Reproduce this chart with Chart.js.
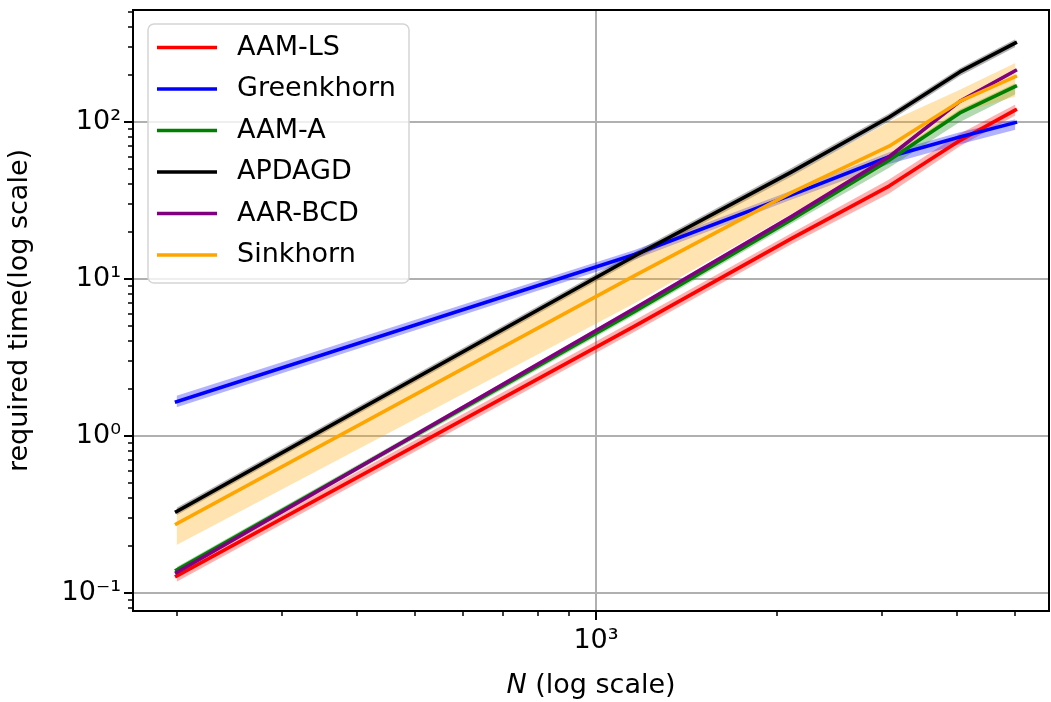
<!DOCTYPE html>
<html>
<head>
<meta charset="utf-8">
<title>required time vs N</title>
<script src="https://cdn.jsdelivr.net/npm/chart.js@4.4.0/dist/chart.umd.min.js"></script>
<style>
  html, body { margin: 0; padding: 0; background: #fff; }
  #wrap { width: 1051px; height: 702px; position: relative; }
</style>
</head>
<body>
<div id="wrap"><canvas id="chart"></canvas></div>
<script>
// Problem sizes (x axis)
const N_VALUES = [200, 1160, 2120, 3080, 4040, 5000];

// mean required time + shaded spread, one set per method
const AAM_LS    = [0.128, 5.0, 18.1, 39, 76, 119];
const AAM_LS_LO = [0.118, 4.6, 16.7, 35, 70, 110];
const AAM_LS_HI = [0.139, 5.45, 19.6, 43, 84, 129];

const GREENKHORN    = [1.65, 14.3, 34.3, 60, 80, 99];
const GREENKHORN_LO = [1.52, 13.3, 32.0, 54, 72, 89];
const GREENKHORN_HI = [1.80, 15.3, 36.5, 64, 86, 104];

const AAM_A    = [0.140, 6.2, 23.9, 57, 114, 168];
const AAM_A_LO = [0.134, 5.9, 22.5, 51, 100, 150];
const AAM_A_HI = [0.146, 6.5, 25.0, 60, 120, 176];

const APDAGD    = [0.330, 14.0, 48, 107, 208, 318];
const APDAGD_LO = [0.312, 13.2, 45, 101, 196, 300];
const APDAGD_HI = [0.349, 14.8, 51, 113, 220, 336];

const AAR_BCD    = [0.135, 6.5, 25.0, 60, 135, 212];
const AAR_BCD_LO = [0.131, 6.3, 24.2, 58, 131, 206];
const AAR_BCD_HI = [0.139, 6.7, 25.8, 62, 139, 218];

const SINKHORN    = [0.275, 10.5, 35.6, 70, 135, 194];
const SINKHORN_LO = [0.202, 7.0, 26.0, 57, 114, 145];
const SINKHORN_HI = [0.320, 14.0, 46.0, 100, 160, 237];

// tick values
const X_TICKS = [200, 300, 400, 500, 600, 700, 800, 900, 1000, 2000, 3000, 4000, 5000];
const Y_TICKS = [0.08, 0.09, 0.1, 0.2, 0.3, 0.4, 0.5, 0.6, 0.7, 0.8, 0.9,
                 1, 2, 3, 4, 5, 6, 7, 8, 9, 10, 20, 30, 40, 50, 60, 70, 80, 90,
                 100, 200, 300, 400, 500];
const MAJOR_LABELS = { 0.1: '10⁻¹', 1: '10⁰', 10: '10¹', 100: '10²', 1000: '10³' };

const FONT = 'DejaVu Sans';
const GRID = '#b0b0b0';

const SERIES = [
    { label: 'AAM-LS',     mean: AAM_LS,     lo: AAM_LS_LO,     hi: AAM_LS_HI,     color: '#ff0000', band: 'rgba(255,0,0,0.3)' },
    { label: 'Greenkhorn', mean: GREENKHORN, lo: GREENKHORN_LO, hi: GREENKHORN_HI, color: '#0000ff', band: 'rgba(0,0,255,0.3)' },
    { label: 'AAM-A',      mean: AAM_A,      lo: AAM_A_LO,      hi: AAM_A_HI,      color: '#008000', band: 'rgba(0,128,0,0.3)' },
    { label: 'APDAGD',     mean: APDAGD,     lo: APDAGD_LO,     hi: APDAGD_HI,     color: '#000000', band: 'rgba(0,0,0,0.3)' },
    { label: 'AAR-BCD',    mean: AAR_BCD,    lo: AAR_BCD_LO,    hi: AAR_BCD_HI,    color: '#800080', band: 'rgba(128,0,128,0.3)' },
    { label: 'Sinkhorn',   mean: SINKHORN,   lo: SINKHORN_LO,   hi: SINKHORN_HI,   color: '#ffa500', band: 'rgba(255,165,0,0.3)' },
];

function pts(arr) {
    return N_VALUES.map((n, i) => ({ x: n, y: arr[i] }));
}

const datasets = [];
SERIES.forEach((s, i) => {
    // band: lower edge, then upper edge filled down to it
    datasets.push({ data: pts(s.lo), borderWidth: 0, pointRadius: 0, fill: false, order: 40 - 2 * i });
    datasets.push({ data: pts(s.hi), borderWidth: 0, pointRadius: 0, fill: '-1',
                    backgroundColor: s.band, order: 39 - 2 * i });
});
SERIES.forEach((s, i) => {
    datasets.push({
        label: s.label, isLine: true, data: pts(s.mean),
        borderColor: s.color, borderWidth: 3.6, pointRadius: 0, tension: 0, fill: false,
        borderJoinStyle: 'round', borderCapStyle: 'square',
        order: 10 - i,
    });
});

function isMajor(v) {
    return Object.prototype.hasOwnProperty.call(MAJOR_LABELS, v);
}

// spines, tick marks, x title and legend box
const decorPlugin = {
    id: 'decor',
    afterDraw(chart) {
        const ctx = chart.ctx;
        const a = chart.chartArea;
        const xs = chart.scales.x, ys = chart.scales.y;
        ctx.save();

        ctx.strokeStyle = '#000';
        ctx.lineWidth = 2;
        ctx.strokeRect(a.left, a.top, a.right - a.left, a.bottom - a.top);

        X_TICKS.forEach(v => {
            const px = Math.round(xs.getPixelForValue(v));
            const len = isMajor(v) ? 9 : 5;
            ctx.lineWidth = isMajor(v) ? 2 : 1.5;
            ctx.beginPath();
            ctx.moveTo(px, a.bottom);
            ctx.lineTo(px, a.bottom + len);
            ctx.stroke();
        });
        Y_TICKS.forEach(v => {
            const py = Math.round(ys.getPixelForValue(v));
            const len = isMajor(v) ? 9 : 5;
            ctx.lineWidth = isMajor(v) ? 2 : 1.5;
            ctx.beginPath();
            ctx.moveTo(a.left, py);
            ctx.lineTo(a.left - len, py);
            ctx.stroke();
        });

        // x axis title with italic N
        ctx.fillStyle = '#000';
        ctx.textBaseline = 'middle';
        ctx.textAlign = 'left';
        const fi = 'italic 27px "' + FONT + '"';
        const fn = '27px "' + FONT + '"';
        ctx.font = fi;
        const w1 = ctx.measureText('N').width;
        ctx.font = fn;
        const w2 = ctx.measureText(' (log scale)').width;
        const x0 = (a.left + a.right) / 2 - (w1 + w2) / 2;
        ctx.font = fi;
        ctx.fillText('N', x0, 686);
        ctx.font = fn;
        ctx.fillText(' (log scale)', x0 + w1, 686);

        // legend
        const bx = 148, by = 24, bw = 261, bh = 259, r = 6;
        ctx.beginPath();
        ctx.moveTo(bx + r, by);
        ctx.arcTo(bx + bw, by, bx + bw, by + bh, r);
        ctx.arcTo(bx + bw, by + bh, bx, by + bh, r);
        ctx.arcTo(bx, by + bh, bx, by, r);
        ctx.arcTo(bx, by, bx + bw, by, r);
        ctx.closePath();
        ctx.fillStyle = 'rgba(255,255,255,0.8)';
        ctx.fill();
        ctx.strokeStyle = '#d5d5d5';
        ctx.lineWidth = 1.5;
        ctx.stroke();

        const items = chart.data.datasets.filter(d => d.isLine);
        items.forEach((d, i) => {
            const y = 47.5 + i * 41.5;
            ctx.strokeStyle = d.borderColor;
            ctx.lineWidth = 3.6;
            ctx.beginPath();
            ctx.moveTo(157, y);
            ctx.lineTo(217, y);
            ctx.stroke();
            ctx.fillStyle = '#000';
            ctx.font = fn;
            ctx.textAlign = 'left';
            ctx.textBaseline = 'middle';
            ctx.fillText(d.label, 237, y);
        });
        ctx.restore();
    }
};

new Chart(document.getElementById('chart'), {
    type: 'line',
    data: { datasets },
    options: {
        responsive: true,
        maintainAspectRatio: false,
        animation: false,
        devicePixelRatio: 1,
        layout: { padding: { top: 10, right: 2, left: 0, bottom: 0 } },
        plugins: {
            legend: { display: false },
            tooltip: { enabled: false },
        },
        scales: {
            x: {
                type: 'logarithmic',
                min: 169.2,
                max: 5689,
                afterBuildTicks: s => { s.ticks = X_TICKS.map(v => ({ value: v, major: isMajor(v) })); },
                afterFit: s => { s.height = 91; s.paddingLeft = 0; s.paddingRight = 0; },
                border: { display: false },
                grid: {
                    drawTicks: false,
                    lineWidth: 2,
                    color: c => (c.tick && isMajor(c.tick.value)) ? GRID : 'rgba(0,0,0,0)',
                },
                ticks: {
                    autoSkip: false,
                    maxRotation: 0,
                    padding: 14,
                    color: '#000',
                    font: { family: FONT, size: 27 },
                    callback: v => MAJOR_LABELS[v] || '',
                },
            },
            y: {
                type: 'logarithmic',
                min: 0.0767,
                max: 516,
                afterBuildTicks: s => { s.ticks = Y_TICKS.map(v => ({ value: v, major: isMajor(v) })); },
                afterFit: s => { s.width = 133; s.paddingTop = 0; s.paddingBottom = 0; },
                border: { display: false },
                grid: {
                    drawTicks: false,
                    lineWidth: 2,
                    color: c => (c.tick && isMajor(c.tick.value)) ? GRID : 'rgba(0,0,0,0)',
                },
                ticks: {
                    autoSkip: false,
                    padding: 12,
                    color: '#000',
                    font: { family: FONT, size: 27 },
                    callback: v => MAJOR_LABELS[v] || '',
                },
                title: {
                    display: true,
                    text: 'required time(log scale)',
                    color: '#000',
                    font: { family: FONT, size: 27, lineHeight: 1.2 },
                    padding: { top: 4, bottom: 0 },
                },
            },
        },
    },
    plugins: [decorPlugin],
});
</script>
</body>
</html>
